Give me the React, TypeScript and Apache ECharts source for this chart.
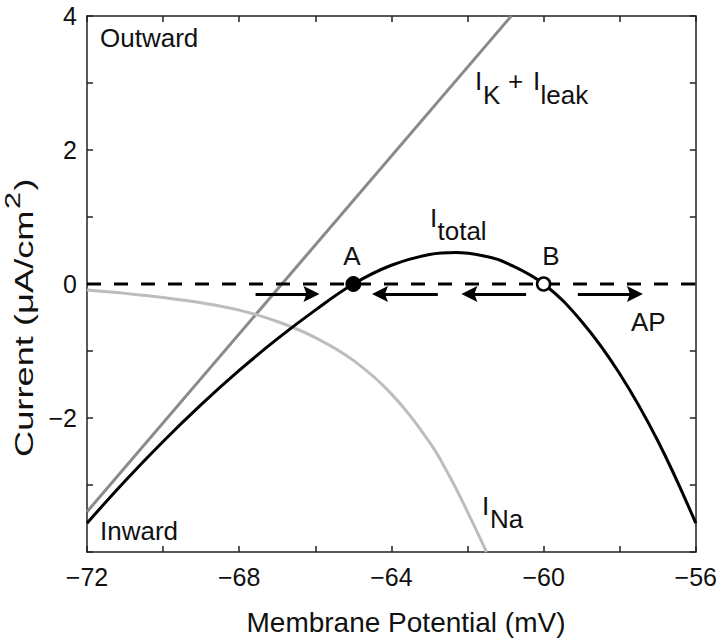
import React, { useEffect, useRef } from 'react';
import * as echarts from 'echarts';

// Axis ranges and tick labels
const xRange = [-72, -56];
const yRange = [-4, 4];
const xTickLabels = [-72, -68, -64, -60, -56];
const yTickLabels = [4, 2, 0, -2];

// I_K + I_leak (straight line)
const vLeak = [-72, -60.85];
const iLeak = [-3.4, 4.0];

// I_Na
const vNa = [-72, -71, -70, -69, -68, -67, -66, -65, -64, -63, -62.5, -62, -61.5];
const iNa = [-0.09, -0.14, -0.2, -0.28, -0.39, -0.56, -0.8, -1.14, -1.64, -2.36, -2.84, -3.4, -4.0];

// I_total
const vTot = [-72, -71, -70, -69, -68, -67, -66, -65, -64, -63, -62.3, -61.5, -61, -60, -59, -58, -57, -56];
const iTot = [-3.57, -2.94, -2.35, -1.8, -1.29, -0.82, -0.39, 0, 0.28, 0.44, 0.47, 0.41, 0.32, 0, -0.56, -1.34, -2.34, -3.57];

// Zero line
const vZero = [-72, -56];
const iZero = [0, 0];

// Arrows (start, end) at current level arrowY
const arrowStart = [-67.57, -62.78, -60.46, -59.1];
const arrowEnd = [-66.1, -64.3, -61.95, -57.6];
const arrowY = -0.15;

// Fixed points
const pointA = [-65, 0];
const pointB = [-60, 0];

const FONT = '"Liberation Sans", Arial, Helvetica, sans-serif';

const fmt = (v: number) => (v < 0 ? '\u2212' + Math.abs(v) : String(v));
const pairs = (xs: number[], ys: number[]) => xs.map((x, i) => [x, ys[i]]);

function measure(text: string, size: number) {
  const c = document.createElement('canvas').getContext('2d');
  if (!c) return text.length * size * 0.55;
  c.font = `${size}px ${FONT}`;
  return c.measureText(text).width;
}

export default function App() {
  const ref = useRef<HTMLDivElement>(null);

  useEffect(() => {
    document.body.style.margin = '0';
    if (!ref.current) return;
    const chart = echarts.init(ref.current, null, { renderer: 'svg' });

    const axisLine = { show: true, onZero: false, lineStyle: { color: '#222', width: 1.5 } };
    const axisTick = { show: true, inside: true, length: 6, lineStyle: { color: '#222', width: 1.5 } };

    const AS = 26; // annotation font size
    const txt = (text: string, x: number, baseline: number, size = AS, align = 'left') => ({
      type: 'text',
      x,
      y: baseline - 0.35 * size,
      silent: true,
      style: {
        text,
        fontSize: size,
        fontFamily: FONT,
        fill: '#111',
        align,
        verticalAlign: 'middle',
      },
    });

    // Y axis title (rotated group, reading bottom to top, stretched along its length)
    const yMain = 'Current (\u03bcA/cm';
    const yMainSize = 26;
    const ySupSize = 22;
    const w1 = measure(yMain, yMainSize);
    const w2 = measure('2', ySupSize);
    const w3 = measure(')', yMainSize);
    const targetLen = 280;
    const stretch = targetLen / (w1 + w2 + w3 + 3);
    const local = (text: string, size: number, lx: number, baseLy: number) => ({
      type: 'text',
      x: lx,
      y: baseLy - 0.3465 * size,
      silent: true,
      style: { text, fontSize: size, fontFamily: FONT, fill: '#111', align: 'left', verticalAlign: 'middle' },
    });
    const yTitle = {
      type: 'group',
      x: 33,
      y: 457,
      rotation: Math.PI / 2,
      scaleX: stretch,
      scaleY: 1,
      silent: true,
      children: [
        local(yMain, yMainSize, 0, 0),
        local('2', ySupSize, w1 + 1, -13),
        local(')', yMainSize, w1 + w2 + 2, 0),
      ],
    };

    const option: any = {
      animation: false,
      backgroundColor: '#fff',
      grid: { left: 87, top: 16, width: 614, height: 536, containLabel: false },
      xAxis: [
        {
          type: 'value',
          min: xRange[0],
          max: xRange[1],
          interval: 2,
          axisLine,
          axisTick,
          splitLine: { show: false },
          axisLabel: {
            show: true,
            margin: 12,
            fontSize: 25,
            fontFamily: FONT,
            color: '#111',
            showMinLabel: true,
            showMaxLabel: true,
            formatter: (v: number) => (xTickLabels.includes(v) ? fmt(v) : ''),
          },
        },
        {
          type: 'value',
          position: 'top',
          min: xRange[0],
          max: xRange[1],
          interval: 2,
          axisLine,
          axisTick,
          splitLine: { show: false },
          axisLabel: { show: false },
        },
      ],
      yAxis: [
        {
          type: 'value',
          min: yRange[0],
          max: yRange[1],
          interval: 1,
          axisLine,
          axisTick,
          splitLine: { show: false },
          axisLabel: {
            show: true,
            margin: 10,
            fontSize: 25,
            fontFamily: FONT,
            color: '#111',
            showMinLabel: true,
            showMaxLabel: true,
            formatter: (v: number) => (yTickLabels.includes(v) ? fmt(v) : ''),
          },
        },
        {
          type: 'value',
          position: 'right',
          min: yRange[0],
          max: yRange[1],
          interval: 1,
          axisLine,
          axisTick,
          splitLine: { show: false },
          axisLabel: { show: false },
        },
      ],
      series: [
        {
          name: 'IK+Ileak',
          type: 'line',
          data: pairs(vLeak, iLeak),
          symbol: 'none',
          lineStyle: { color: '#8a8a8a', width: 3 },
          z: 2,
        },
        {
          name: 'INa',
          type: 'line',
          data: pairs(vNa, iNa),
          smooth: 0.4,
          symbol: 'none',
          lineStyle: { color: '#bdbdbd', width: 3 },
          z: 2,
        },
        {
          name: 'Itotal',
          type: 'line',
          data: pairs(vTot, iTot),
          smooth: 0.4,
          symbol: 'none',
          lineStyle: { color: '#000', width: 3 },
          z: 3,
        },
        {
          name: 'zero',
          type: 'line',
          data: pairs(vZero, iZero),
          symbol: 'none',
          lineStyle: { color: '#000', width: 3, type: [14, 13] },
          z: 4,
        },
        {
          name: 'arrows',
          type: 'lines',
          coordinateSystem: 'cartesian2d',
          symbol: ['none', 'path://M0,-8L7,8L0,5L-7,8Z'],
          symbolSize: 16,
          lineStyle: { color: '#000', width: 3, opacity: 1, curveness: 0 },
          data: arrowStart.map((s, i) => ({ coords: [[s, arrowY], [arrowEnd[i], arrowY]] })),
          z: 5,
        },
        {
          name: 'A',
          type: 'scatter',
          data: [pointA],
          symbol: 'circle',
          symbolSize: 15,
          itemStyle: { color: '#000', borderColor: '#000', borderWidth: 1, opacity: 1 },
          z: 6,
        },
        {
          name: 'B',
          type: 'scatter',
          data: [pointB],
          symbol: 'circle',
          symbolSize: 13,
          itemStyle: { color: '#fff', borderColor: '#000', borderWidth: 2.5, opacity: 1 },
          z: 6,
        },
      ],
      graphic: [
        txt('Outward', 100, 47),
        txt('Inward', 100, 540),
        txt('I', 475, 90),
        txt('K', 483, 104),
        txt('+', 508, 90),
        txt('I', 533, 90),
        txt('leak', 540.5, 104),
        txt('I', 430, 227),
        txt('total', 437.5, 240),
        txt('A', 352, 265, AS, 'center'),
        txt('B', 551, 265, AS, 'center'),
        txt('AP', 631, 331),
        txt('I', 482, 515),
        txt('Na', 490, 528),
        txt('Membrane Potential (mV)', 406, 632, 28, 'center'),
        yTitle,
      ],
    };

    chart.setOption(option);
    return () => chart.dispose();
  }, []);

  return <div ref={ref} style={{ width: 720, height: 638 }} />;
}
